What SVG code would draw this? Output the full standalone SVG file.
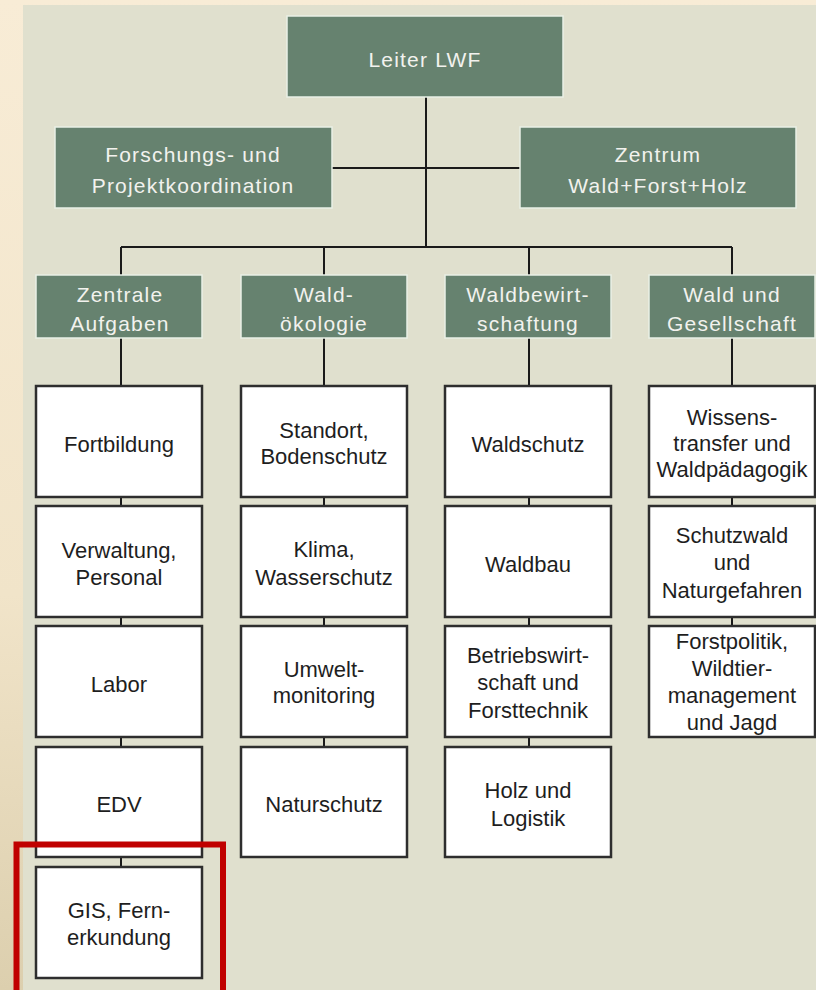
<svg xmlns="http://www.w3.org/2000/svg" width="816" height="990" viewBox="0 0 816 990">
<defs>
<linearGradient id="side" x1="0" y1="0" x2="0" y2="1">
<stop offset="0" stop-color="#f8ecd6"/>
<stop offset="0.6" stop-color="#f1e4c9"/>
<stop offset="1" stop-color="#dccfae"/>
</linearGradient>
<style>
.g{fill:#66826f;stroke:#e9efe6;stroke-width:1.5}
.w{fill:#ffffff;stroke:#2e2e2e;stroke-width:2.5}
.gt{font-family:"Liberation Sans",Arial,sans-serif;font-size:21px;fill:#f2f2ee;text-anchor:middle;letter-spacing:1.2px}
.wt{font-family:"Liberation Sans",Arial,sans-serif;font-size:22px;fill:#1e1e1e;text-anchor:middle}
.c{stroke:#1a1a1a;stroke-width:2;fill:none}
</style>
</defs>
<rect x="0" y="0" width="816" height="990" fill="url(#side)"/>
<rect x="23" y="5" width="793" height="985" fill="#e0e0ce"/>

<g id="connectors">
<line class="c" x1="426" y1="97" x2="426" y2="247"/>
<line class="c" x1="332" y1="168" x2="520" y2="168"/>
<line class="c" x1="121" y1="247" x2="732" y2="247"/>
<line class="c" x1="121" y1="247" x2="121" y2="275"/>
<line class="c" x1="324" y1="247" x2="324" y2="275"/>
<line class="c" x1="529" y1="247" x2="529" y2="275"/>
<line class="c" x1="732" y1="247" x2="732" y2="275"/>
<line class="c" x1="121" y1="338" x2="121" y2="386"/>
<line class="c" x1="324" y1="338" x2="324" y2="386"/>
<line class="c" x1="529" y1="338" x2="529" y2="386"/>
<line class="c" x1="732" y1="338" x2="732" y2="386"/>
<line class="c" x1="121" y1="497" x2="121" y2="506"/>
<line class="c" x1="121" y1="617" x2="121" y2="626"/>
<line class="c" x1="121" y1="737" x2="121" y2="747"/>
<line class="c" x1="121" y1="857" x2="121" y2="867"/>
<line class="c" x1="324" y1="497" x2="324" y2="506"/>
<line class="c" x1="324" y1="617" x2="324" y2="626"/>
<line class="c" x1="324" y1="737" x2="324" y2="747"/>
<line class="c" x1="529" y1="497" x2="529" y2="506"/>
<line class="c" x1="529" y1="617" x2="529" y2="626"/>
<line class="c" x1="529" y1="737" x2="529" y2="747"/>
<line class="c" x1="732" y1="497" x2="732" y2="506"/>
<line class="c" x1="732" y1="617" x2="732" y2="626"/>
</g>

<g id="leiter"><rect class="g" x="287" y="16" width="276" height="81"/><text class="gt" x="425" y="67">Leiter LWF</text></g>
<g id="forschung"><rect class="g" x="55" y="127" width="277" height="81"/><text class="gt" x="193" y="162">Forschungs- und</text><text class="gt" x="193" y="193">Projektkoordination</text></g>
<g id="zentrum"><rect class="g" x="520" y="127" width="276" height="81"/><text class="gt" x="658" y="162">Zentrum</text><text class="gt" x="658" y="193">Wald+Forst+Holz</text></g>

<g id="zentrale"><rect class="g" x="36" y="275" width="166" height="63"/><text class="gt" x="120" y="302">Zentrale</text><text class="gt" x="120" y="331">Aufgaben</text></g>
<g id="waldoekologie"><rect class="g" x="241" y="275" width="166" height="63"/><text class="gt" x="324" y="302">Wald-</text><text class="gt" x="324" y="331">ökologie</text></g>
<g id="waldbewirtschaftung"><rect class="g" x="445" y="275" width="166" height="63"/><text class="gt" x="528" y="302">Waldbewirt-</text><text class="gt" x="528" y="331">schaftung</text></g>
<g id="gesellschaft"><rect class="g" x="649" y="275" width="166" height="63"/><text class="gt" x="732" y="302">Wald und</text><text class="gt" x="732" y="331">Gesellschaft</text></g>

<g id="fortbildung"><rect class="w" x="36" y="386" width="166" height="111"/><text class="wt" x="119" y="452">Fortbildung</text></g>
<g id="verwaltung"><rect class="w" x="36" y="506" width="166" height="111"/><text class="wt" x="119" y="558">Verwaltung,</text><text class="wt" x="119" y="585">Personal</text></g>
<g id="labor"><rect class="w" x="36" y="626" width="166" height="111"/><text class="wt" x="119" y="692">Labor</text></g>
<g id="edv"><rect class="w" x="36" y="747" width="166" height="110"/><text class="wt" x="119" y="812">EDV</text></g>
<g id="gis"><rect class="w" x="36" y="867" width="166" height="111"/><text class="wt" x="119" y="918">GIS, Fern-</text><text class="wt" x="119" y="945">erkundung</text></g>

<g id="standort"><rect class="w" x="241" y="386" width="166" height="111"/><text class="wt" x="324" y="438">Standort,</text><text class="wt" x="324" y="464">Bodenschutz</text></g>
<g id="klima"><rect class="w" x="241" y="506" width="166" height="111"/><text class="wt" x="324" y="557">Klima,</text><text class="wt" x="324" y="585">Wasserschutz</text></g>
<g id="umwelt"><rect class="w" x="241" y="626" width="166" height="111"/><text class="wt" x="324" y="677">Umwelt-</text><text class="wt" x="324" y="703">monitoring</text></g>
<g id="naturschutz"><rect class="w" x="241" y="747" width="166" height="110"/><text class="wt" x="324" y="812">Naturschutz</text></g>

<g id="waldschutz"><rect class="w" x="445" y="386" width="166" height="111"/><text class="wt" x="528" y="452">Waldschutz</text></g>
<g id="waldbau"><rect class="w" x="445" y="506" width="166" height="111"/><text class="wt" x="528" y="572">Waldbau</text></g>
<g id="betrieb"><rect class="w" x="445" y="626" width="166" height="111"/><text class="wt" x="528" y="663">Betriebswirt-</text><text class="wt" x="528" y="690">schaft und</text><text class="wt" x="528" y="718">Forsttechnik</text></g>
<g id="holz"><rect class="w" x="445" y="747" width="166" height="110"/><text class="wt" x="528" y="798">Holz und</text><text class="wt" x="528" y="826">Logistik</text></g>

<g id="wissen"><rect class="w" x="649" y="386" width="166" height="111"/><text class="wt" x="732" y="425">Wissens-</text><text class="wt" x="732" y="451">transfer und</text><text class="wt" x="732" y="477">Waldpädagogik</text></g>
<g id="schutzwald"><rect class="w" x="649" y="506" width="166" height="111"/><text class="wt" x="732" y="543">Schutzwald</text><text class="wt" x="732" y="570">und</text><text class="wt" x="732" y="598">Naturgefahren</text></g>
<g id="forstpolitik"><rect class="w" x="649" y="626" width="166" height="111"/><text class="wt" x="732" y="649">Forstpolitik,</text><text class="wt" x="732" y="676">Wildtier-</text><text class="wt" x="732" y="703">management</text><text class="wt" x="732" y="730">und Jagd</text></g>

<rect x="16.5" y="844.5" width="206.5" height="200" fill="none" stroke="#c00000" stroke-width="6"/>
</svg>
